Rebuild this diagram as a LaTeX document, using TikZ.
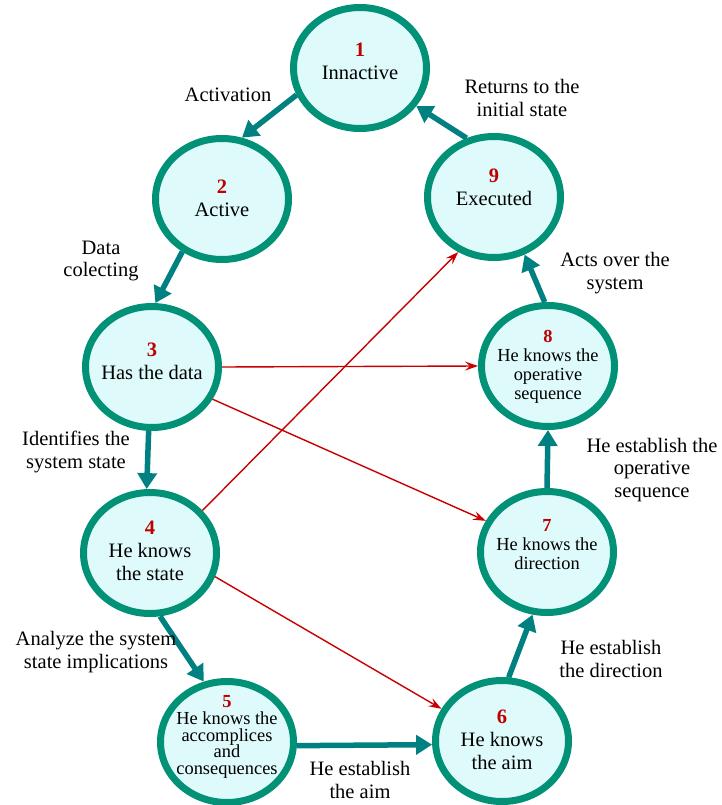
\documentclass[tikz,border=0pt]{standalone}
\usepackage{fontspec}
\setmainfont{Liberation Serif}
\usetikzlibrary{shapes.geometric,arrows.meta}

\definecolor{ringgreen}{RGB}{0,145,118}
\definecolor{statefill}{RGB}{222,250,250}
\definecolor{flowteal}{RGB}{0,128,128}
\definecolor{jumpred}{RGB}{200,0,0}
\definecolor{numred}{RGB}{190,0,0}

\newcommand\stnum[1]{\textcolor{numred}{\textbf{#1}}}

\begin{document}
\begin{tikzpicture}[x=1pt,y=-1pt,
  ring/.style={ellipse, draw=ringgreen, line width=7pt, fill=statefill,
    minimum width=133pt, minimum height=121pt, inner sep=0pt},
  bigtext/.style={align=center, inner sep=0pt,
    font=\fontsize{20.5}{23}\selectfont},
  smalltext/.style={align=center, inner sep=0pt,
    font=\fontsize{18.4}{19}\selectfont},
  tighttext/.style={align=center, inner sep=0pt,
    font=\fontsize{18.4}{16.8}\selectfont},
  note/.style={align=center, inner sep=0pt,
    font=\fontsize{20.5}{22.5}\selectfont},
  flow/.style={draw=flowteal, line width=5.5pt,
    -{Triangle[length=16pt,width=19pt]}},
  jump/.style={draw=jumpred, line width=1.4pt,
    -{Stealth[length=13pt,width=9pt,inset=5pt]}}
]
\useasboundingbox (0,0) rectangle (722,805);

% state rings
\node[ring] (n1) at (360,68)  {};
\node[ring] (n2) at (222,199) {};
\node[ring] (n3) at (152,367) {};
\node[ring] (n4) at (150,553) {};
\node[ring] (n5) at (227,742) {};
\node[ring] (n6) at (502,741) {};
\node[ring] (n7) at (547,552) {};
\node[ring] (n8) at (548,366) {};
\node[ring] (n9) at (494,197) {};

% state captions
\node[bigtext]   (t1) at (360,61)  {\stnum{1}\\Innactive};
\node[bigtext]   (t2) at (222,198) {\stnum{2}\\Active};
\node[bigtext]   (t3) at (152,361) {\stnum{3}\\Has the data};
\node[bigtext]   (t4) at (150,551) {\stnum{4}\\He knows\\the state};
\node[tighttext] (t5) at (227,737) {\stnum{5}\\He knows the\\accomplices\\and\\consequences};
\node[bigtext]   (t6) at (502,740) {\stnum{6}\\He knows\\the aim};
\node[smalltext] (t7) at (547,545) {\stnum{7}\\He knows the\\direction};
\node[smalltext] (t8) at (548,367) {\stnum{8}\\He knows the\\operative\\sequence};
\node[bigtext]   (t9) at (494,187) {\stnum{9}\\Executed};

% shortcuts between states
\draw[jump] (n4.39)  -- (n9.237);
\draw[jump] (n3.0)   -- (n8.180);
\draw[jump] (n3.332) -- (n7.153);
\draw[jump] (n4.340) -- (n6.152);

% main cycle
\draw[flow] (n1.203) -- (n2.72);
\draw[flow] (n2.233) -- (n3.87);
\draw[flow] (n3.267) -- (n4.93);
\draw[flow] (n4.279) -- (n5.111);
\draw[flow] (n5.357) -- (n6.183);
\draw[flow] (n6.84)  -- (n7.257);
\draw[flow] (n7.90)  -- (n8.270);
\draw[flow] (n8.93)  -- (n9.298);
\draw[flow] (n9.115) -- (n1.326);

% transition labels
\node[note] (l12) at (228,95)  {Activation};
\node[note] (l91) at (522,98)  {Returns to the\\initial state};
\node[note] (l23) at (101,261) {Data\\colecting};
\node[note] (l89) at (615,273) {Acts over the\\system};
\node[note] (l34) at (76,452)  {Identifies the\\system state};
\node[note] (l78) at (652,470) {He establish the\\operative\\sequence};
\node[note] (l45) at (96,652)  {Analyze the system\\state implications};
\node[note] (l67) at (611,659) {He establish\\the direction};
\node[note] (l56) at (360,780) {He establish\\the aim};
\end{tikzpicture}
\end{document}
